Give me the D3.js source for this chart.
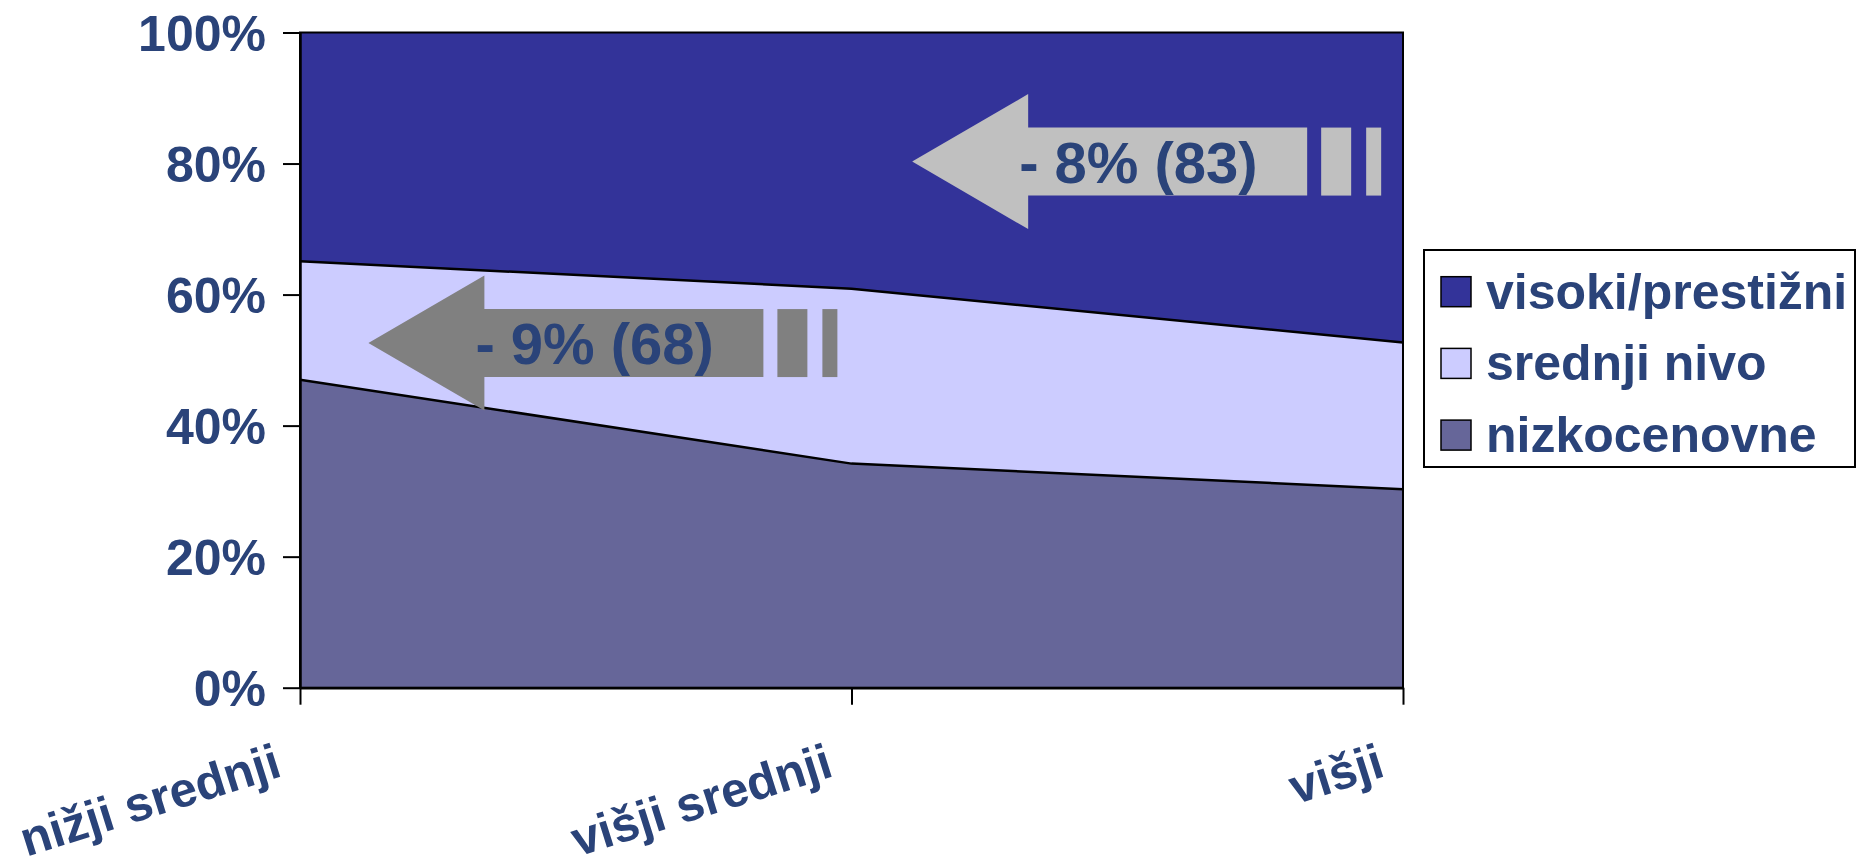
<!DOCTYPE html>
<html>
<head>
<meta charset="utf-8">
<script src="https://cdn.jsdelivr.net/npm/d3@7"></script>
<style>
  body { margin: 0; background: #fff; }
  text { font-family: "Liberation Sans", Arial, sans-serif; font-weight: bold; }
</style>
</head>
<body>
<script>
// categories and series (percent shares, stacked bottom -> top)
var categories = ["nižji srednji", "višji srednji", "višji"];
var seriesNames = ["nizkocenovne", "srednji nivo", "visoki/prestižni"];
var nizkocenovne = [47.0, 34.2, 30.3];
var srednjiNivo = [18.1, 26.7, 22.4];
var visoki = [34.9, 39.1, 47.3];
var yTicks = [0, 20, 40, 60, 80, 100];

// arrow annotations (x in category index units, y in percent)
var arrowLabels = ["- 8% (83)", "- 9% (68)"];
var arrowTipX = [1.11, 0.124];
var arrowY = [80.3, 52.6];

var colors = {"nizkocenovne": "#666699", "srednji nivo": "#ccccff", "visoki/prestižni": "#333399"};
var arrowColors = ["#c0c0c0", "#808080"];
var textColor = "#2a4379";

var svgWidth = 1856;
var svgHeight = 868;

var margin = { top: 32.5, right: 453, bottom: 180.3, left: 300 };
var chartWidth = svgWidth - margin.left - margin.right;
var chartHeight = svgHeight - margin.top - margin.bottom;

var svg = d3.select("body")
    .append("svg")
    .attr("width", svgWidth)
    .attr("height", svgHeight);

var chartGroup = svg.append("g")
    .attr("transform", `translate(${margin.left},${margin.top})`);

var data = categories.map(function (c, i) {
    return { cat: c, "nizkocenovne": nizkocenovne[i], "srednji nivo": srednjiNivo[i], "visoki/prestižni": visoki[i] };
});

var xScale = d3.scalePoint()
    .domain(categories)
    .range([0, chartWidth]);

var xIndex = d3.scaleLinear()
    .domain([0, categories.length - 1])
    .range([0, chartWidth]);

var yScale = d3.scaleLinear()
    .domain([0, 100])
    .range([chartHeight, 0]);

var stack = d3.stack().keys(seriesNames);
var layers = stack(data);

var area = d3.area()
    .x(d => xScale(d.data.cat))
    .y0(d => yScale(d[0]))
    .y1(d => yScale(d[1]));

var topLine = d3.line()
    .x(d => xScale(d.data.cat))
    .y(d => yScale(d[1]));

chartGroup.selectAll(".layer")
    .data(layers)
    .enter()
    .append("path")
    .attr("class", "layer")
    .attr("d", area)
    .attr("fill", d => colors[d.key]);

chartGroup.selectAll(".edge")
    .data(layers.slice(0, 2))
    .enter()
    .append("path")
    .attr("class", "edge")
    .attr("d", topLine)
    .attr("fill", "none")
    .attr("stroke", "#000")
    .attr("stroke-width", 2.5);

// plot frame
chartGroup.append("rect")
    .attr("width", chartWidth)
    .attr("height", chartHeight)
    .attr("fill", "none")
    .attr("stroke", "#000")
    .attr("stroke-width", 2);

// arrows
var arrowGroup = chartGroup.selectAll(".arrow")
    .data(arrowLabels)
    .enter()
    .append("g")
    .attr("class", "arrow")
    .attr("transform", (d, i) => `translate(${xIndex(arrowTipX[i])},${yScale(arrowY[i])})`);

arrowGroup.append("path")
    .attr("d", "M0,0 L116,-67.5 L116,-34 L395,-34 L395,34 L116,34 L116,67.5 Z")
    .attr("fill", (d, i) => arrowColors[i]);

arrowGroup.append("rect")
    .attr("x", 409).attr("y", -34).attr("width", 30).attr("height", 68)
    .attr("fill", (d, i) => arrowColors[i]);

arrowGroup.append("rect")
    .attr("x", 454).attr("y", -34).attr("width", 15).attr("height", 68)
    .attr("fill", (d, i) => arrowColors[i]);

arrowGroup.append("text")
    .attr("x", 107)
    .attr("y", 21)
    .attr("font-size", 58)
    .attr("fill", textColor)
    .style("white-space", "pre")
    .text(d => d);

// axes
var leftAxis = d3.axisLeft(yScale)
    .tickValues(yTicks)
    .tickSize(17)
    .tickSizeOuter(0)
    .tickPadding(17)
    .tickFormat(d => d + "%");

var yAxisG = chartGroup.append("g").call(leftAxis);
yAxisG.select(".domain").attr("stroke", "#000").attr("stroke-width", 2.5);
yAxisG.selectAll(".tick line").attr("stroke", "#000").attr("stroke-width", 2);
yAxisG.selectAll(".tick text")
    .attr("font-size", 50)
    .attr("font-family", "Liberation Sans, Arial, sans-serif")
    .attr("font-weight", "bold")
    .attr("fill", textColor)
    .attr("dy", "0.36em");

var bottomAxis = d3.axisBottom(xScale)
    .tickSize(17)
    .tickSizeOuter(0);

var xAxisG = chartGroup.append("g")
    .attr("transform", `translate(0, ${chartHeight})`)
    .call(bottomAxis);
xAxisG.select(".domain").attr("stroke", "#000").attr("stroke-width", 2.5);
xAxisG.selectAll(".tick line").attr("stroke", "#000").attr("stroke-width", 2);
xAxisG.selectAll(".tick text")
    .attr("font-size", 49)
    .attr("font-family", "Liberation Sans, Arial, sans-serif")
    .attr("font-weight", "bold")
    .attr("fill", textColor)
    .attr("text-anchor", "end")
    .attr("x", 0)
    .attr("y", 0)
    .attr("dy", 0)
    .attr("transform", "translate(-17, 88) rotate(-17.5)");

// legend
var legend = svg.append("g").attr("transform", "translate(1424, 250)");

legend.append("rect")
    .attr("width", 431)
    .attr("height", 217)
    .attr("fill", "#fff")
    .attr("stroke", "#000")
    .attr("stroke-width", 2);

var legendItems = legend.selectAll(".legend-item")
    .data(seriesNames.slice().reverse())
    .enter()
    .append("g")
    .attr("class", "legend-item")
    .attr("transform", (d, i) => `translate(0, ${26.7 + i * 71.7})`);

legendItems.append("rect")
    .attr("x", 17)
    .attr("width", 30)
    .attr("height", 30)
    .attr("fill", d => colors[d])
    .attr("stroke", "#000")
    .attr("stroke-width", 1.5);

legendItems.append("text")
    .attr("x", 62)
    .attr("y", 32)
    .attr("font-size", 50)
    .attr("fill", textColor)
    .text(d => d);
</script>
</body>
</html>
